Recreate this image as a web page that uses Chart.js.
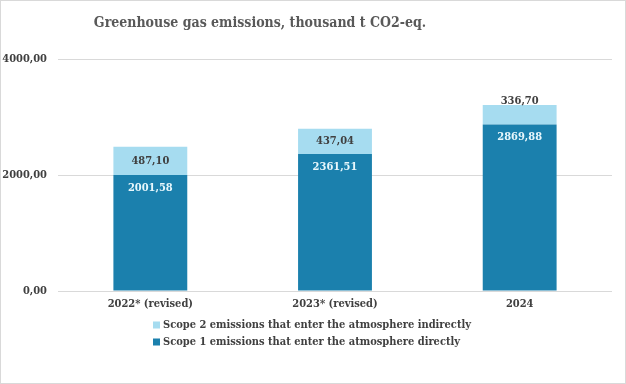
<!DOCTYPE html>
<html><head><meta charset="utf-8">
<script src="https://cdn.jsdelivr.net/npm/chart.js@4.4.1/dist/chart.umd.min.js"></script>
<style>
html,body{margin:0;padding:0;background:#fff;}
canvas{display:block}
</style></head><body>
<canvas id="c" width="626" height="384"></canvas>
<script>
const categories = ['2022* (revised)', '2023* (revised)', '2024'];
const scope1 = [2001.58, 2361.51, 2869.88];
const scope2 = [487.10, 437.04, 336.70];
const yTicks = [0, 2000, 4000];
const chartTitle = 'Greenhouse gas emissions, thousand t CO2-eq.';
const scope1Label = 'Scope 1 emissions that enter the atmosphere directly';
const scope2Label = 'Scope 2 emissions that enter the atmosphere indirectly';

const FONT = "'DejaVu Serif Condensed', 'Liberation Serif', serif";
const C1 = '#1b80ad';
const C2 = '#a6dcf0';
const fmt = v => v.toFixed(2).replace('.', ',');

const decor = {
  id: 'decor',
  afterDraw(chart) {
    const ctx = chart.ctx;
    ctx.save();
    ctx.strokeStyle = '#d9d9d9';
    ctx.lineWidth = 1;
    ctx.strokeRect(0.5, 0.5, chart.width - 1, chart.height - 1);
    ctx.fillStyle = '#595959';
    ctx.font = 'bold 14px ' + FONT;
    ctx.textAlign = 'center';
    ctx.textBaseline = 'middle';
    ctx.fillText(chartTitle, 260, 23);
    const items = chart.data.datasets.slice().reverse();
    ctx.font = 'bold 11px ' + FONT;
    ctx.textAlign = 'left';
    items.forEach((ds, i) => {
      const y = 325 + i * 17;
      ctx.fillStyle = ds.backgroundColor;
      ctx.fillRect(153, y - 3.5, 7, 7);
      ctx.fillStyle = '#404040';
      ctx.fillText(ds.label, 163, y);
    });
    ctx.restore();
  },
  afterDatasetsDraw(chart) {
    const ctx = chart.ctx;
    ctx.save();
    ctx.font = 'bold 11px ' + FONT;
    ctx.textAlign = 'center';
    ctx.textBaseline = 'middle';
    chart.data.datasets.forEach((ds, di) => {
      const meta = chart.getDatasetMeta(di);
      meta.data.forEach((el, i) => {
        const v = ds.data[i];
        if (di === 0) {
          ctx.fillStyle = '#e8f7fc';
          ctx.fillText(fmt(v), el.x, el.y + 13);
        } else {
          const h = el.base - el.y;
          ctx.fillStyle = '#404040';
          const y = h >= 22 ? (el.y + el.base) / 2 : el.y - 4;
          ctx.fillText(fmt(v), el.x, y);
        }
      });
    });
    ctx.restore();
  }
};

new Chart(document.getElementById('c'), {
  type: 'bar',
  data: {
    labels: categories,
    datasets: [
      { label: scope1Label, data: scope1, backgroundColor: C1, categoryPercentage: 1, barPercentage: 0.4 },
      { label: scope2Label, data: scope2, backgroundColor: C2, categoryPercentage: 1, barPercentage: 0.4 }
    ]
  },
  options: {
    responsive: false,
    animation: false,
    layout: { padding: { top: 59, right: 14, left: 0, bottom: 0 } },
    plugins: { legend: { display: false }, tooltip: { enabled: false }, title: { display: false } },
    scales: {
      x: {
        stacked: true,
        grid: { display: false, drawTicks: false },
        border: { display: false },
        ticks: { color: '#404040', font: { family: FONT, size: 11, weight: 'bold' }, padding: 7 },
        afterFit(s) { s.height = 93; }
      },
      y: {
        stacked: true,
        min: 0, max: 4000,
        afterBuildTicks(s) { s.ticks = yTicks.map(v => ({ value: v })); },
        grid: { color: '#d9d9d9', drawTicks: false },
        border: { display: false },
        ticks: { color: '#404040', font: { family: FONT, size: 11, weight: 'bold' }, padding: 11, callback: v => fmt(v) },
        afterFit(s) { s.width = 58; }
      }
    }
  },
  plugins: [decor]
});
</script>
</body></html>
